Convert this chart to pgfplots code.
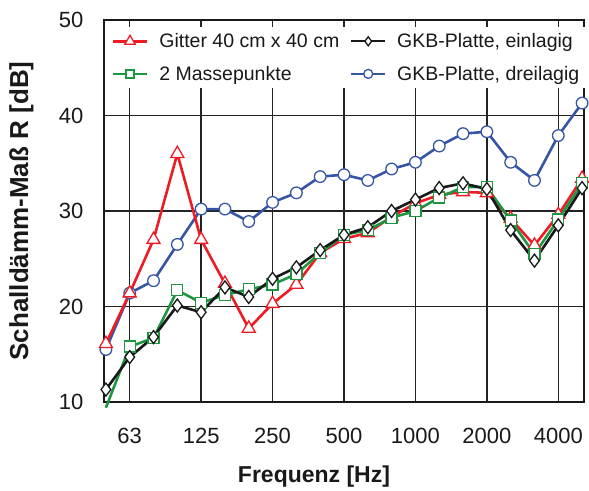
\documentclass[border=0pt]{standalone}
\usepackage{fontspec}
\setmainfont{Liberation Sans}
\usepackage{pgfplots}
\pgfplotsset{compat=1.18}
\definecolor{cRed}{RGB}{237,28,36}
\definecolor{cGreen}{RGB}{30,150,65}
\definecolor{cBlue}{RGB}{55,85,165}
\definecolor{cBlack}{RGB}{25,25,25}
\definecolor{cGrid}{RGB}{35,35,35}
\pgfplotsset{
 sRed/.style={cRed, line width=2.6pt, mark=triangle*, mark size=7.5pt, mark options={solid, line width=1.3pt, fill=white, draw=cRed}},
 sGreen/.style={cGreen, line width=2.6pt, mark=square*, mark size=5.5pt, mark options={solid, line width=1.3pt, fill=white, draw=cGreen}},
 sBlack/.style={cBlack, line width=2.6pt, mark=diamond*, mark size=6.5pt, mark options={solid, line width=1.3pt, fill=white, draw=cBlack}},
 sBlue/.style={cBlue, line width=2.6pt, mark=*, mark size=5.8pt, mark options={solid, line width=1.3pt, fill=white, draw=cBlue}},
}
\begin{document}
\begin{tikzpicture}
\begin{axis}[
 at={(0,0)}, anchor=south west,
 scale only axis, width=480pt, height=382pt,
 xmin=-0.08, xmax=20.08, ymin=10, ymax=50,
 xtick={1,4,7,10,13,16,19},
 xticklabels={63,125,250,500,1000,2000,4000},
 ytick={10,20,30,40,50},
 grid=major,
 major grid style={cGrid, line width=1.3pt},
 major tick length=0pt,
 axis line style={cBlack, line width=2.6pt},
 tick label style={font=\fontsize{22}{26}\selectfont, text=cBlack},
 /pgf/number format/assume math mode=true,
 xticklabel style={yshift=-23pt},
 yticklabel style={xshift=-17pt},
 xlabel={Frequenz [Hz]}, ylabel={Schalldämm-Maß R [dB]},
 xlabel style={font=\bfseries\fontsize{23}{27}\selectfont, text=cBlack, at={(axis description cs:0.4375,-0.195)}, anchor=center},
 ylabel style={font=\bfseries\fontsize{26}{30}\selectfont, text=cBlack, at={(axis description cs:-0.172,0.5)}, anchor=center},
 clip=false,
 legend columns=2,
 legend cell align=left,
 legend style={at={(axis description cs:0.003,0.981)}, anchor=north west, draw=none, fill=white,
   font=\fontsize{19.5}{22}\selectfont, text=cBlack, row sep=13pt, inner xsep=6pt, inner ysep=4pt,
   /tikz/every odd column/.append style={column sep=9pt},
   /tikz/every even column/.append style={column sep=9pt}},
 legend image code/.code={\draw[mark repeat=2,mark phase=2] plot coordinates {(0cm,0cm) (0.6cm,0cm) (1.2cm,0cm)};},
]
\addplot[sBlue, forget plot] coordinates {
(0,15.5) (1,21.4) (2,22.7) (3,26.5) (4,30.2) (5,30.2) (6,28.9) (7,30.9) (8,31.9) (9,33.6) (10,33.8)
(11,33.2) (12,34.4) (13,35.1) (14,36.8) (15,38.1) (16,38.3) (17,35.1) (18,33.2) (19,37.9) (20,41.3)};
\addplot[sRed, forget plot] coordinates {
(0,16.1) (1,21.4) (2,27.0) (3,36.0) (4,27.0) (5,22.4) (6,17.7) (7,20.3) (8,22.3) (9,25.6) (10,27.1)
(11,27.7) (12,29.4) (13,30.8) (14,31.7) (15,32.0) (16,31.9) (17,29.2) (18,26.4) (19,29.6) (20,33.4)};
\addplot[sGreen, forget plot, mark indices={2,3,4,5,6,7,8,9,10,11,12,13,14,15,16,17,18,19,20,21}] coordinates {
(0,9.4) (1,15.8) (2,16.7) (3,21.7) (4,20.4) (5,21.2) (6,21.8) (7,22.3) (8,23.4) (9,25.6) (10,27.5)
(11,28.0) (12,29.3) (13,30.0) (14,31.4) (15,32.5) (16,32.5) (17,29.0) (18,25.5) (19,29.1) (20,32.9)};
\addplot[sBlack, forget plot] coordinates {
(0,11.3) (1,14.7) (2,16.8) (3,20.1) (4,19.4) (5,22.0) (6,21.0) (7,22.9) (8,24.1) (9,25.9) (10,27.5)
(11,28.3) (12,30.0) (13,31.2) (14,32.4) (15,32.9) (16,32.3) (17,28.0) (18,24.8) (19,28.5) (20,32.4)};
\addlegendimage{sRed, mark size=6pt}
\addlegendentry{Gitter 40 cm x 40 cm}
\addlegendimage{sBlack, line width=1.8pt, mark size=4.5pt}
\addlegendentry{GKB-Platte, einlagig}
\addlegendimage{sGreen, line width=1.8pt, mark size=4pt}
\addlegendentry{2 Massepunkte}
\addlegendimage{sBlue, line width=1.8pt, mark size=4.5pt}
\addlegendentry{GKB-Platte, dreilagig}
\end{axis}
\path (-104pt,-86pt) rectangle (485pt,402pt);
\end{tikzpicture}
\end{document}
